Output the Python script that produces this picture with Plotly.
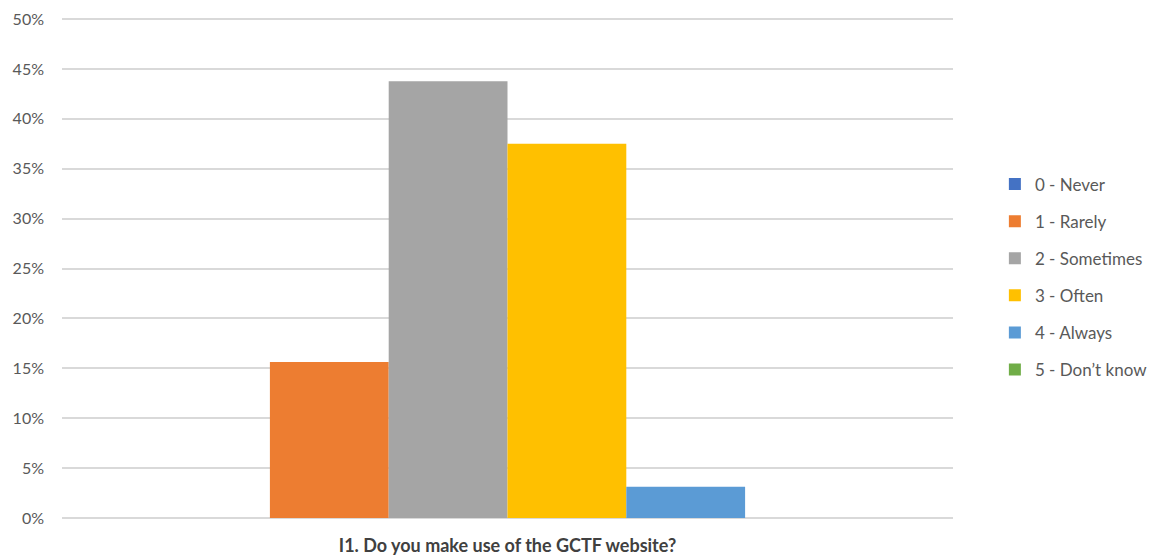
import plotly.graph_objects as go

category = "I1. Do you make use of the GCTF website?"
series_names = ["0 - Never", "1 - Rarely", "2 - Sometimes", "3 - Often", "4 - Always", "5 - Don’t know"]
series_values = [0.0, 0.15625, 0.4375, 0.375, 0.03125, 0.0]
series_colors = ["#4472C4", "#ED7D31", "#A5A5A5", "#FFC000", "#5B9BD5", "#70AD47"]
y_ticks = [0, 0.05, 0.10, 0.15, 0.20, 0.25, 0.30, 0.35, 0.40, 0.45, 0.50]

fig = go.Figure()
for i, (name, val, col) in enumerate(zip(series_names, series_values, series_colors)):
    fig.add_trace(go.Bar(
        x=[category], y=[val], name=name,
        marker=dict(color=col, line=dict(width=0)),
        legendgroup=str(i),
    ))

fig.update_layout(
    width=1156, height=555,
    margin=dict(l=62, r=203, t=17, b=37, autoexpand=False),
    paper_bgcolor="white", plot_bgcolor="white",
    barmode="group", bargap=0.2, bargroupgap=0,
    font=dict(family="Lato, Open Sans, sans-serif", size=16, color="#595959"),
    showlegend=True,
    legend=dict(
        x=1.047, y=0.481, xanchor="left", yanchor="middle",
        traceorder="grouped", tracegroupgap=12,
        font=dict(size=17, color="#595959"),
        itemwidth=30,
    ),
    xaxis=dict(
        tickmode="array", tickvals=[category], ticktext=["<b>" + category + "</b>"],
        tickfont=dict(size=18, color="#404040"),
        showgrid=False, showline=False, ticks="", ticklabelstandoff=15,
    ),
    yaxis=dict(
        range=[0, 0.502], tickvals=y_ticks, tickformat=".0%",
        showgrid=True, gridcolor="#D9D9D9", gridwidth=1.5,
        zeroline=True, zerolinecolor="#D9D9D9", zerolinewidth=1.5,
        showline=False, ticks="", ticklabelstandoff=17,
        tickfont=dict(size=16, color="#595959"),
    ),
)

fig.write_html(
    "out.html",
    config={"displayModeBar": False},
    post_script="document.body.style.margin='0';document.body.style.padding='0';",
)
